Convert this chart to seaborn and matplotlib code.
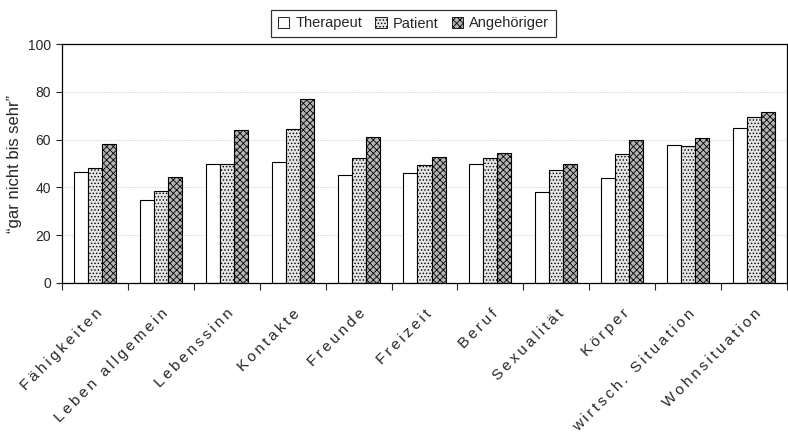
import matplotlib
matplotlib.use("Agg")
import matplotlib.pyplot as plt
import seaborn as sns
import pandas as pd

categories = ["Fähigkeiten", "Leben allgemein", "Lebenssinn", "Kontakte", "Freunde",
              "Freizeit", "Beruf", "Sexualität", "Körper", "wirtsch. Situation",
              "Wohnsituation"]
therapeut = [46.5, 34.7, 50.0, 50.5, 45.0, 46.2, 49.8, 37.9, 43.8, 57.9, 65.0]
patient = [48.3, 38.5, 49.6, 64.6, 52.3, 49.3, 52.1, 47.1, 53.8, 57.2, 69.6]
angehoeriger = [58.2, 44.3, 64.2, 77.0, 61.0, 52.6, 54.4, 50.0, 60.0, 60.8, 71.4]
groups = ["Therapeut", "Patient", "Angehöriger"]
y_ticks = [0, 20, 40, 60, 80, 100]

df = pd.DataFrame({
    "Bereich": categories * 3,
    "Gruppe": [g for g in groups for _ in categories],
    "Wert": therapeut + patient + angehoeriger,
})

sns.set_style("white")
plt.rcParams["font.family"] = ["Liberation Sans", "DejaVu Sans"]
plt.rcParams["hatch.linewidth"] = 0.6

fig = plt.figure(figsize=(7.88, 4.33), dpi=100)
ax = fig.add_axes([62 / 788, 1 - 283 / 433, 725 / 788, (283 - 44) / 433])

face = {"Therapeut": "white", "Patient": "#e4e4e4", "Angehöriger": "#b4b4b4"}
hatch = {"Therapeut": "", "Patient": ".....", "Angehöriger": "xxxxx"}

sns.barplot(data=df, x="Bereich", y="Wert", hue="Gruppe", order=categories,
            hue_order=groups, palette=face, width=0.64, gap=0,
            edgecolor="black", linewidth=0.8, errorbar=None, ax=ax)

for cont, g in zip(ax.containers, groups):
    for bar in cont:
        bar.set_hatch(hatch[g])
        bar.set_edgecolor("black")

ax.set_ylim(0, 100)
ax.set_xlim(-0.5, len(categories) - 0.5)
ax.set_yticks(y_ticks)
ax.set_yticklabels([str(t) for t in y_ticks], fontsize=10)
ax.yaxis.grid(True, color="#c8c8c8", linestyle=(0, (1, 1.5)), linewidth=0.7)
ax.set_axisbelow(True)

# category ticks sit on the group boundaries, labels centred under each group
ax.set_xticks([i - 0.5 for i in range(len(categories) + 1)])
ax.set_xticklabels([])
ax.set_xticks(range(len(categories)), minor=True)
spaced = ["\u2009".join(c) for c in categories]
ax.set_xticklabels(spaced, minor=True, rotation=45, ha="right",
                   rotation_mode="anchor", fontsize=11)
ax.tick_params(axis="x", which="minor", length=0, pad=17)
ax.tick_params(axis="x", which="major", length=5, direction="out", width=0.8)
ax.tick_params(axis="y", length=4, direction="out", width=0.8, pad=4)
ax.tick_params(bottom=True, left=True)

for s in ax.spines.values():
    s.set_color("black")
    s.set_linewidth(0.9)
    s.set_visible(True)

ax.set_xlabel("")
ax.set_ylabel("\u201cgar nicht bis sehr\u201d", fontsize=12)
ax.yaxis.set_label_coords(-40 / 725, 0.5)

leg = ax.legend(loc="center", bbox_to_anchor=(413.5 / 788, 1 - 23.5 / 433),
                bbox_transform=fig.transFigure, ncol=3, frameon=True,
                fancybox=False, edgecolor="black", fontsize=10.5,
                handlelength=0.8, handleheight=0.8, handletextpad=0.4,
                columnspacing=0.9, borderpad=0.45)
leg.get_frame().set_linewidth(0.9)
for h, g in zip(leg.legend_handles, groups):
    h.set_hatch(hatch[g])
    h.set_edgecolor("black")
    h.set_linewidth(0.6)

fig.savefig("out.png", dpi=100)
